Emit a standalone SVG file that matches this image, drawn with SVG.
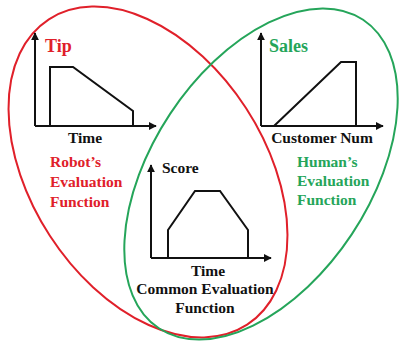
<svg xmlns="http://www.w3.org/2000/svg" width="399" height="343" viewBox="0 0 399 343">
<style>
.lbl{font-family:"Liberation Serif","Times New Roman",serif;font-weight:bold;font-size:15.5px}
.blk{fill:#111}
.red{fill:#e0202a}
.grn{fill:#25a55a}
.ax{stroke:#111;stroke-width:2;fill:none;marker-end:url(#ah)}
.cv{stroke:#111;stroke-width:2;fill:none;stroke-linejoin:miter}
</style>
<defs>
<marker id="ah" viewBox="0 0 10 10" refX="9" refY="5" markerWidth="4" markerHeight="4" orient="auto" markerUnits="strokeWidth">
<path d="M0,0 L10,5 L0,10 z" fill="#111"/>
</marker>
</defs>
<rect width="399" height="343" fill="#fff"/>
<g id="connectors">
<ellipse id="robot-set" cx="148" cy="172" rx="182" ry="117" transform="rotate(57 148 172)" fill="none" stroke="#e0202a" stroke-width="2"/>
<ellipse id="human-set" cx="261" cy="174" rx="185" ry="109" transform="rotate(-56.5 261 174)" fill="none" stroke="#25a55a" stroke-width="2"/>
</g>
<g id="tip-chart">
<path class="ax" d="M35,126 V33"/>
<path class="ax" d="M35,126 H156"/>
<path class="cv" d="M50,126 V67 H73 L133,111 V126"/>
<text class="lbl red" x="45" y="52" style="font-size:18px">Tip</text>
<text class="lbl blk" x="85" y="143" text-anchor="middle">Time</text>
</g>
<g id="robot-label">
<text class="lbl red" x="50" y="167">Robot’s</text>
<text class="lbl red" x="50" y="187">Evaluation</text>
<text class="lbl red" x="50" y="207">Function</text>
</g>
<g id="sales-chart">
<path class="ax" d="M261,126 V33"/>
<path class="ax" d="M261,126 H383"/>
<path class="cv" d="M274,126 L341,62 H356 V126"/>
<text class="lbl grn" x="269" y="52" style="font-size:18px">Sales</text>
<text class="lbl blk" x="322" y="143" text-anchor="middle">Customer Num</text>
</g>
<g id="human-label">
<text class="lbl grn" x="297" y="167">Human’s</text>
<text class="lbl grn" x="297" y="186">Evaluation</text>
<text class="lbl grn" x="297" y="205">Function</text>
</g>
<g id="score-chart">
<path class="ax" d="M151,258 V165"/>
<path class="ax" d="M151,258 H271"/>
<path class="cv" d="M168,258 V230 L195,191 H220 L248,230 V258"/>
<text class="lbl blk" x="162" y="173">Score</text>
<text class="lbl blk" x="208" y="276" text-anchor="middle">Time</text>
<text class="lbl blk" x="205" y="294" text-anchor="middle">Common Evaluation</text>
<text class="lbl blk" x="205" y="313" text-anchor="middle">Function</text>
</g>
</svg>
